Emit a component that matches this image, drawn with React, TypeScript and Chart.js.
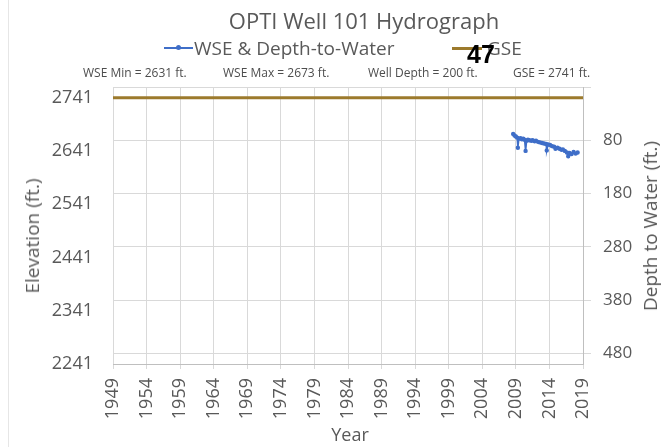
import React, { useEffect, useRef } from "react";
import { Chart, registerables } from "chart.js";

Chart.register(...registerables);

const TITLE = "OPTI Well 101 Hydrograph";
const SERIES_WSE = "WSE & Depth-to-Water";
const SERIES_GSE = "GSE";
const NOTES = ["WSE Min = 2631 ft.", "WSE Max = 2673 ft.", "Well Depth = 200 ft.", "GSE =  2741 ft."];
const X_TICKS = [1949, 1954, 1959, 1964, 1969, 1974, 1979, 1984, 1989, 1994, 1999, 2004, 2009, 2014, 2019];
const ELEV_TICKS = [2241, 2341, 2441, 2541, 2641, 2741];
const DEPTH_TICKS = [-20, 80, 180, 280, 380, 480];
const GSE_VALUE = 2741;
const GSE_YEARS = [1949, 2019];

const WSE_YEARS = [
  2008.6, 2008.8, 2009.0, 2009.2, 2009.3, 2009.45, 2009.7, 2009.9, 2010.1, 2010.3,
  2010.45, 2010.6, 2010.8, 2011.0, 2011.3, 2011.5, 2011.8, 2012.0, 2012.3, 2012.6,
  2012.9, 2013.2, 2013.5, 2013.6, 2013.8, 2014.1, 2014.4, 2014.7, 2014.9, 2015.2,
  2015.5, 2015.8, 2016.0, 2016.3, 2016.6, 2016.8, 2017.0, 2017.3, 2017.6, 2017.9, 2018.2,
];
const WSE_VALUES = [
  2673, 2670, 2668, 2666, 2647, 2664, 2665, 2663, 2664, 2662,
  2641, 2660, 2662, 2661, 2660, 2661, 2659, 2660, 2658, 2657,
  2656, 2655, 2654, 2642, 2653, 2652, 2650, 2649, 2645, 2647,
  2645, 2643, 2644, 2641, 2638, 2631, 2637, 2635, 2639, 2636, 2638,
];

const FONT = "'Open Sans', sans-serif";
const GRAY = "#595959";
const GRID = "#d9d9d9";
const BLUE = "#3f6ec8";
const BROWN = "#9c7a2c";

export default function App() {
  const ref = useRef<HTMLCanvasElement | null>(null);

  useEffect(() => {
    document.body.style.margin = "0";
    const ctx = ref.current!.getContext("2d")!;
    const chart = new Chart(ctx, {
      type: "line",
      data: {
        datasets: [
          {
            label: SERIES_WSE,
            data: WSE_YEARS.map((x, i) => ({ x, y: WSE_VALUES[i] })),
            borderColor: BLUE,
            backgroundColor: BLUE,
            borderWidth: 1.6,
            pointRadius: 1.4,
            pointHoverRadius: 1.4,
            yAxisID: "y",
          },
          {
            label: SERIES_GSE,
            data: GSE_YEARS.map((x) => ({ x, y: GSE_VALUE })),
            borderColor: BROWN,
            backgroundColor: BROWN,
            borderWidth: 3,
            pointRadius: 0,
            yAxisID: "y",
          },
        ],
      },
      options: {
        animation: false,
        responsive: false,
        layout: { padding: { top: 87, left: 0, right: 0, bottom: 0 } },
        plugins: { legend: { display: false }, title: { display: false }, tooltip: { enabled: false } },
        scales: {
          x: {
            type: "linear",
            min: 1949,
            max: 2019,
            afterBuildTicks: (s: any) => { s.ticks = X_TICKS.map((v) => ({ value: v })); },
            afterFit: (s: any) => { s.height = 83; },
            ticks: {
              autoSkip: false,
              maxRotation: 90,
              minRotation: 90,
              padding: 9,
              color: GRAY,
              font: { family: FONT, size: 18 },
              callback: (v: any) => String(v),
            },
            grid: { color: GRID, tickLength: 5, lineWidth: 1 },
            border: { color: "#bfbfbf" },
          },
          y: {
            type: "linear",
            position: "left",
            min: 2241,
            max: 2761,
            afterBuildTicks: (s: any) => { s.ticks = ELEV_TICKS.map((v) => ({ value: v })); },
            afterFit: (s: any) => { s.width = 113; },
            ticks: {
              autoSkip: false,
              padding: 20,
              color: GRAY,
              font: { family: FONT, size: 18 },
              callback: (v: any) => String(v),
            },
            grid: { display: false, drawTicks: false },
            border: { display: false },
          },
          y2: {
            type: "linear",
            position: "right",
            min: -20,
            max: 500,
            reverse: true,
            afterBuildTicks: (s: any) => { s.ticks = DEPTH_TICKS.map((v) => ({ value: v })); },
            afterFit: (s: any) => { s.width = 83; },
            ticks: {
              autoSkip: false,
              padding: 12,
              color: GRAY,
              font: { family: FONT, size: 17 },
              callback: (v: any) => (v === DEPTH_TICKS[0] ? "" : String(v)),
            },
            grid: { color: GRID, tickLength: 8, drawOnChartArea: true },
            border: { color: "#bfbfbf" },
          },
        },
      },
    } as any);
    return () => chart.destroy();
  }, []);

  const abs: React.CSSProperties = { position: "absolute", whiteSpace: "nowrap", fontFamily: FONT, color: GRAY };

  return (
    <div style={{ position: "fixed", left: 0, top: 0, width: 666, height: 447, background: "#fff", overflow: "hidden" }}>
      <canvas ref={ref} width={666} height={447} style={{ position: "absolute", left: 0, top: 0, width: 666, height: 447 }} />
      <div style={{ position: "absolute", left: 8, top: 0, width: 1, height: 447, background: "#e6e6e6" }} />
      <div style={{ ...abs, left: 364, top: 9, fontSize: 22, lineHeight: "22px", transform: "translateX(-50%)" }}>{TITLE}</div>
      {/* legend */}
      <div style={{ position: "absolute", left: 164, top: 47, width: 29, height: 1.6, background: BLUE }} />
      <div style={{ position: "absolute", left: 176, top: 45, width: 5, height: 5, borderRadius: 3, background: BLUE }} />
      <div style={{ ...abs, left: 194, top: 37, fontSize: 19, lineHeight: "22px" }}>{SERIES_WSE}</div>
      <div style={{ position: "absolute", left: 452, top: 46.5, width: 30, height: 3, background: BROWN }} />
      <div style={{ ...abs, left: 487, top: 37, fontSize: 19, lineHeight: "22px" }}>{SERIES_GSE}</div>
      {/* notes */}
      {NOTES.map((t, i) => (
        <div key={i} style={{ ...abs, left: [83, 223, 368, 513][i], top: 66, fontSize: 12, lineHeight: "14px", color: "#4d4d4d" }}>{t}</div>
      ))}
      <div style={{ ...abs, left: 467, top: 40, fontSize: 25, lineHeight: "28px", fontWeight: 700, color: "#000", fontFamily: "'Liberation Sans', Arial, sans-serif" }}>47</div>
      {/* axis titles */}
      <div style={{ ...abs, left: 32, top: 236, fontSize: 19, lineHeight: "22px", transform: "translate(-50%, -50%) rotate(-90deg)" }}>Elevation (ft.)</div>
      <div style={{ ...abs, left: 650, top: 226, fontSize: 19, lineHeight: "22px", transform: "translate(-50%, -50%) rotate(-90deg)" }}>Depth to Water (ft.)</div>
      <div style={{ ...abs, left: 350, top: 434, fontSize: 18, lineHeight: "20px", transform: "translate(-50%, -50%)" }}>Year</div>
    </div>
  );
}
